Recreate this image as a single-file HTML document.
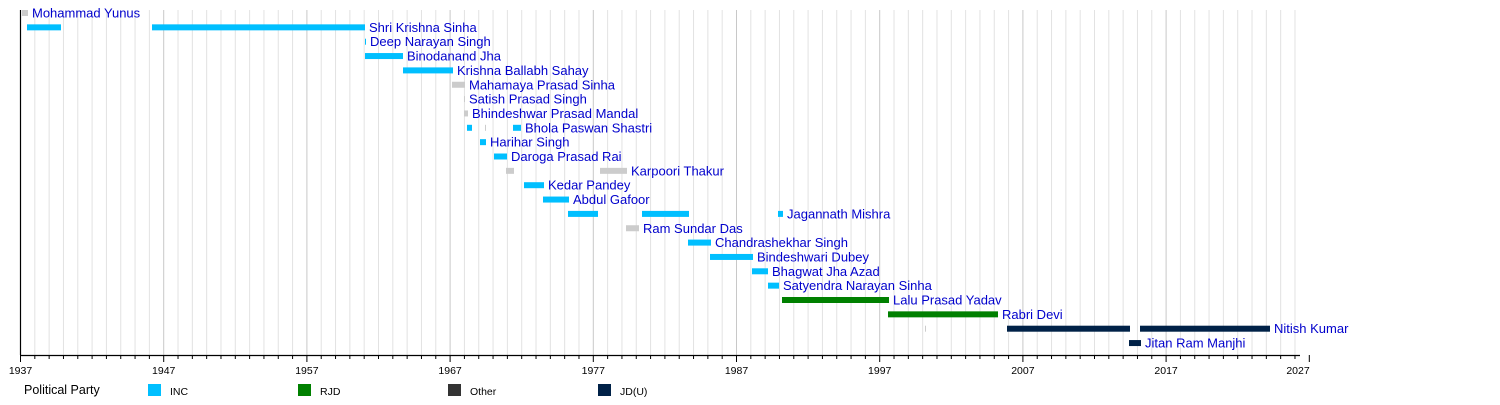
<!DOCTYPE html>
<html><head><meta charset="utf-8"><style>
html,body{margin:0;padding:0;background:#fff;}
svg{display:block;font-family:"Liberation Sans",sans-serif;}
.l{fill:#0000cc;font-size:13px;}
.t{fill:#000;font-size:10.5px;text-anchor:middle;}
</style></head><body>
<svg width="1500" height="405" viewBox="0 0 1500 405" xmlns="http://www.w3.org/2000/svg">
<g id="grid"></g>
<g id="bars"></g>
<line x1="20.5" y1="10" x2="20.5" y2="355" stroke="#000" stroke-width="1.2"/>
<line x1="20" y1="355.5" x2="1300" y2="355.5" stroke="#000" stroke-width="1.2"/>
<g id="ticks"></g>
<text x="24" y="394" font-size="12.5" fill="#000">Political Party</text>
<rect x="148" y="384" width="13" height="12" fill="#00bfff"/><text x="170" y="395" font-size="10.5">INC</text>
<rect x="298" y="384" width="13" height="12" fill="#008000"/><text x="320" y="395" font-size="10.5">RJD</text>
<rect x="448" y="384" width="13" height="12" fill="#333333"/><text x="470" y="395" font-size="10.5">Other</text>
<rect x="598" y="384" width="13" height="12" fill="#002147"/><text x="620" y="395" font-size="10.5">JD(U)</text>
</svg>
<script>
var NS="http://www.w3.org/2000/svg";
function el(p,t,a,txt){var e=document.createElementNS(NS,t);for(var k in a)e.setAttribute(k,a[k]);if(txt)e.textContent=txt;document.getElementById(p).appendChild(e);}
var x0=20.5,s=14.32;
for(var i=1;i<=89;i++){var x=x0+i*s;el('grid','line',{x1:x,y1:10,x2:x,y2:355,stroke:(i%10==0)?'#c8c8c8':'#e2e2e2','stroke-width':1});}
for(var i=0;i<=90;i++){var x=x0+i*s;var maj=i%10==0;el('ticks','line',{x1:x,y1:355,x2:x,y2:maj?362:359,stroke:'#000','stroke-width':1});if(maj)el('ticks','text',{x:(i==90?1298:x),y:374,'class':'t'},String(1937+i));}
var C={i:'#00bfff',r:'#008000',o:'#cccccc',j:'#002147'};
var rows=[
 ["Mohammad Yunus",[[22,28,'o']]],
 ["Shri Krishna Sinha",[[27,61,'i'],[152,365,'i']]],
 ["Deep Narayan Singh",[[365,366,'i']]],
 ["Binodanand Jha",[[365,403,'i']]],
 ["Krishna Ballabh Sahay",[[403,453,'i']]],
 ["Mahamaya Prasad Sinha",[[452,465,'o']]],
 ["Satish Prasad Singh",[[464,465,'o']]],
 ["Bhindeshwar Prasad Mandal",[[464,468,'o']]],
 ["Bhola Paswan Shastri",[[467,472,'i'],[485,486,'o'],[513,521,'i']]],
 ["Harihar Singh",[[480,486,'i']]],
 ["Daroga Prasad Rai",[[494,507,'i']]],
 ["Karpoori Thakur",[[506,514,'o'],[600,627,'o']]],
 ["Kedar Pandey",[[524,544,'i']]],
 ["Abdul Gafoor",[[543,569,'i']]],
 ["Jagannath Mishra",[[568,598,'i'],[642,689,'i'],[778,783,'i']]],
 ["Ram Sundar Das",[[626,639,'o']]],
 ["Chandrashekhar Singh",[[688,711,'i']]],
 ["Bindeshwari Dubey",[[710,753,'i']]],
 ["Bhagwat Jha Azad",[[752,768,'i']]],
 ["Satyendra Narayan Sinha",[[768,779,'i']]],
 ["Lalu Prasad Yadav",[[782,889,'r']]],
 ["Rabri Devi",[[888,998,'r']]],
 ["Nitish Kumar",[[925,926,'o'],[1007,1130,'j'],[1140,1270,'j']]],
 ["Jitan Ram Manjhi",[[1129,1141,'j']]]
];
rows.forEach(function(r,i){var y=13+14.35*i;var end=0;
 r[1].forEach(function(b){el('bars','rect',{x:b[0],y:y-3,width:Math.max(1,b[1]-b[0]),height:6,fill:C[b[2]]});end=Math.max(end,b[1]);});
 el('bars','text',{x:end+4,y:y+4.5,'class':'l'},r[0]);});
</script>
</body></html>
